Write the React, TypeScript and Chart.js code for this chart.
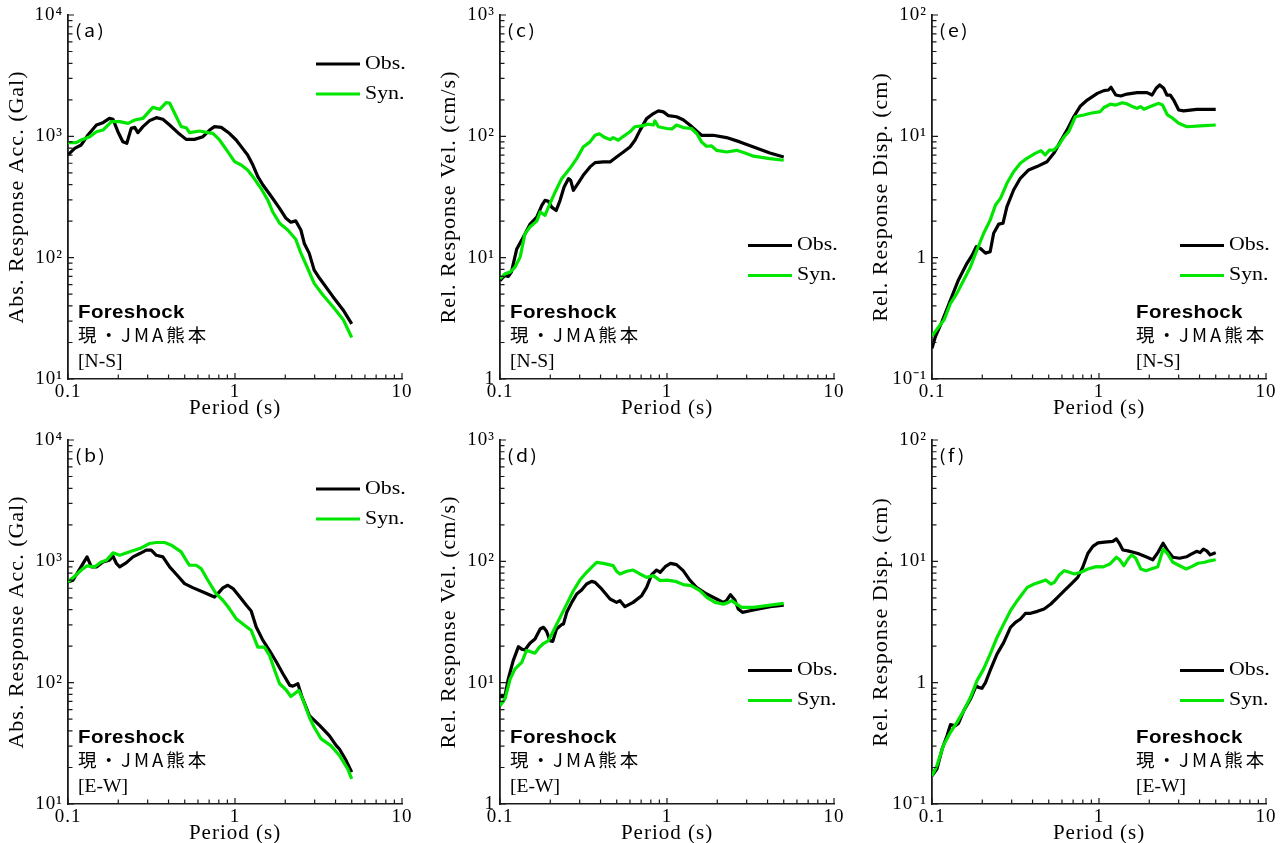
import React, { useEffect, useRef } from 'react';
import { Chart, registerables } from 'chart.js';

Chart.register(...registerables);

const SERIF = "'Liberation Serif', 'Times New Roman', Times, serif";
const SANS = "'Liberation Sans', Arial, Helvetica, sans-serif";
const CJK = "'Noto Sans CJK JP', 'Noto Sans', sans-serif";

const OBS_COLOR = '#000000';
const SYN_COLOR = '#00e600';
const AXIS_COLOR = '#1a1a1a';

const SERIES_LABELS = ['Obs.', 'Syn.'];
const EVENT_LABEL = 'Foreshock';
const STATION_LABEL = '現・JMA熊本';
const X_TITLE = 'Period (s)';
const X_TICKS = [0.1, 1, 10];
const ACC_TICKS = [10, 100, 1000, 10000];
const VEL_TICKS = [1, 10, 100, 1000];
const DISP_TICKS = [0.1, 1, 10, 100];
const ACC_TITLE = 'Abs. Response Acc. (Gal)';
const VEL_TITLE = 'Rel. Response Vel. (cm/s)';
const DISP_TITLE = 'Rel. Response Disp. (cm)';

// ---- (a) acceleration N-S ----
const aObsT = [0.1, 0.1096, 0.12, 0.1317, 0.148, 0.162, 0.177, 0.186, 0.199, 0.213, 0.225, 0.239, 0.251, 0.262, 0.281, 0.308, 0.338, 0.37, 0.406, 0.455, 0.51, 0.572, 0.643, 0.705, 0.753, 0.827, 0.925, 1.016, 1.11, 1.19, 1.28, 1.37, 1.47, 1.65, 1.85, 2.02, 2.16, 2.31, 2.48, 2.6, 2.78, 2.98, 3.21, 3.86, 4.44, 5.0];
const aObsV = [702, 796, 849, 1026, 1240, 1297, 1407, 1380, 1092, 903, 876, 1163, 1186, 1072, 1202, 1347, 1425, 1381, 1240, 1072, 944, 944, 994, 1127, 1202, 1186, 1059, 933, 796, 702, 580, 466, 397, 319, 255, 211, 196, 201, 169, 131, 109, 79, 67.6, 47.7, 37.1, 28.5];
const aSynT = [0.1, 0.112, 0.12, 0.135, 0.148, 0.162, 0.182, 0.204, 0.229, 0.251, 0.281, 0.322, 0.354, 0.387, 0.406, 0.435, 0.476, 0.51, 0.534, 0.613, 0.688, 0.737, 0.808, 0.905, 0.994, 1.09, 1.19, 1.3, 1.43, 1.57, 1.68, 1.85, 2.07, 2.31, 2.48, 2.67, 2.98, 3.36, 3.86, 4.44, 5.0];
const aSynV = [887, 887, 933, 994, 1092, 1127, 1321, 1321, 1280, 1364, 1407, 1733, 1671, 1894, 1882, 1549, 1202, 1178, 1072, 1106, 1072, 1059, 933, 748, 618, 580, 528, 451, 373, 299, 239, 192, 169, 142, 109, 87, 61.4, 49.2, 39.4, 31, 22];

// ---- (b) acceleration E-W ----
const bObsT = [0.1, 0.107, 0.117, 0.13, 0.138, 0.148, 0.162, 0.177, 0.186, 0.195, 0.204, 0.223, 0.245, 0.269, 0.294, 0.315, 0.338, 0.37, 0.406, 0.445, 0.499, 0.558, 0.643, 0.753, 0.79, 0.846, 0.905, 0.973, 1.07, 1.17, 1.25, 1.34, 1.47, 1.61, 1.77, 1.94, 2.13, 2.22, 2.38, 2.52, 2.79, 3.21, 3.67, 4.04, 4.22, 4.63, 5.0];
const bObsV = [676, 698, 855, 1089, 899, 899, 989, 1021, 1102, 960, 899, 971, 1089, 1159, 1236, 1236, 1122, 1089, 899, 782, 655, 607, 559, 508, 542, 604, 635, 596, 508, 434, 390, 288, 223, 184, 148, 118, 94.9, 93.6, 97.9, 76, 53.6, 44.4, 36.6, 30.3, 28.4, 22.8, 18.3];
const bSynT = [0.1, 0.1096, 0.123, 0.13, 0.144, 0.158, 0.17, 0.186, 0.204, 0.234, 0.269, 0.308, 0.338, 0.379, 0.416, 0.476, 0.51, 0.534, 0.585, 0.627, 0.688, 0.77, 0.846, 0.925, 1.016, 1.14, 1.25, 1.37, 1.5, 1.61, 1.73, 1.85, 2.02, 2.16, 2.41, 2.54, 2.79, 2.98, 3.28, 3.75, 4.22, 4.73, 5.0];
const bSynV = [676, 754, 872, 917, 899, 989, 1021, 1175, 1122, 1197, 1274, 1402, 1429, 1429, 1359, 1197, 1021, 928, 928, 872, 698, 542, 478, 408, 337, 297, 270, 196, 196, 168, 126, 97.9, 87.4, 77, 86.4, 73.6, 51.9, 42.9, 34.4, 30.3, 25.1, 19.5, 16.1];

// ---- (c) velocity N-S ----
const cObsT = [0.1, 0.107, 0.112, 0.117, 0.126, 0.138, 0.151, 0.166, 0.178, 0.186, 0.195, 0.204, 0.217, 0.229, 0.242, 0.257, 0.265, 0.275, 0.294, 0.315, 0.346, 0.371, 0.416, 0.456, 0.499, 0.548, 0.6, 0.643, 0.689, 0.755, 0.829, 0.888, 0.952, 1.02, 1.14, 1.25, 1.37, 1.51, 1.61, 1.89, 2.27, 2.73, 3.3, 4.13, 5.0];
const cObsV = [6.48, 7.13, 7.0, 7.6, 11.8, 14.8, 18.8, 21.6, 27, 29.7, 29.1, 26.1, 24.5, 29.7, 38.2, 44.8, 43.4, 35.9, 41.2, 47.7, 56, 60.7, 61.5, 61.5, 67.6, 74.3, 81.8, 92.8, 112, 140, 154, 162, 159, 148, 145, 137, 124, 110, 102, 102, 97.7, 90, 81.8, 73, 67.6];
const cSynT = [0.1, 0.107, 0.115, 0.123, 0.132, 0.141, 0.151, 0.166, 0.174, 0.186, 0.195, 0.214, 0.234, 0.262, 0.288, 0.315, 0.346, 0.371, 0.393, 0.425, 0.456, 0.476, 0.511, 0.548, 0.6, 0.643, 0.706, 0.774, 0.829, 0.846, 0.888, 0.995, 1.07, 1.14, 1.25, 1.4, 1.51, 1.61, 1.72, 1.85, 1.98, 2.27, 2.61, 2.93, 3.3, 4.13, 5.0];
const cSynV = [6.7, 7.36, 7.6, 8.36, 10.1, 15.7, 17.9, 20, 23.8, 22.3, 26.1, 34.8, 44.8, 54.2, 65.5, 81.8, 90, 102, 105, 97.7, 94, 97.7, 92.9, 100, 109, 120, 122, 126, 124, 134, 120, 116, 115, 124, 118, 116, 105, 90, 82.8, 83.4, 76.7, 74.3, 76.7, 73, 68.6, 65.5, 63.5];

// ---- (d) velocity E-W ----
const dObsT = [0.1, 0.107, 0.112, 0.12, 0.129, 0.135, 0.141, 0.151, 0.162, 0.174, 0.182, 0.19, 0.199, 0.207, 0.218, 0.234, 0.24, 0.251, 0.269, 0.288, 0.308, 0.33, 0.354, 0.371, 0.406, 0.456, 0.499, 0.523, 0.56, 0.627, 0.705, 0.755, 0.809, 0.867, 0.91, 0.976, 1.05, 1.14, 1.25, 1.37, 1.5, 1.73, 1.98, 2.17, 2.27, 2.4, 2.55, 2.67, 2.83, 3.3, 4.15, 5.0];
const dObsV = [7.67, 7.67, 10.7, 15.2, 19.8, 18.9, 18.6, 21.1, 22.9, 27.7, 28.6, 26.5, 22.2, 21.9, 27.7, 30.1, 30.5, 38, 45.9, 53.8, 58.1, 65, 68.4, 67.1, 59.2, 48.9, 45.9, 47.4, 42.3, 45.9, 52.1, 61, 77.6, 84.8, 81.2, 90.3, 96.3, 93.9, 83.8, 70.1, 61, 53.8, 48.9, 45.9, 47.4, 53.1, 48, 40.5, 38, 39.7, 42.3, 43.6];
const dSynT = [0.1, 0.107, 0.115, 0.123, 0.135, 0.144, 0.151, 0.162, 0.172, 0.183, 0.195, 0.209, 0.229, 0.251, 0.275, 0.301, 0.33, 0.362, 0.379, 0.416, 0.476, 0.499, 0.523, 0.574, 0.627, 0.689, 0.755, 0.829, 0.91, 1.0, 1.12, 1.25, 1.4, 1.58, 1.73, 1.94, 2.17, 2.33, 2.44, 2.61, 2.8, 3.3, 4.15, 5.0];
const dSynV = [6.46, 7.33, 10.7, 13, 14.7, 18.4, 18.1, 17.5, 19.6, 21.1, 22.2, 26.8, 34.5, 44.4, 57.2, 70.1, 81.2, 92.1, 98.1, 96.3, 92.1, 82.8, 78.7, 82.8, 84.8, 78.7, 73.8, 76.2, 69.3, 70.1, 68.4, 64.3, 63, 57.2, 50.5, 45.9, 44.4, 45.9, 47.4, 44.4, 41.8, 41.8, 43.6, 45.1];

// ---- (e) displacement N-S ----
const eObsT = [0.1, 0.1047, 0.1148, 0.129, 0.144, 0.162, 0.174, 0.184, 0.195, 0.209, 0.223, 0.234, 0.251, 0.266, 0.281, 0.308, 0.338, 0.379, 0.425, 0.488, 0.536, 0.587, 0.644, 0.706, 0.775, 0.85, 0.977, 1.07, 1.14, 1.18, 1.26, 1.35, 1.47, 1.69, 1.94, 2.08, 2.2, 2.31, 2.44, 2.55, 2.67, 2.8, 3.0, 3.21, 3.85, 5.0];
const eObsV = [0.179, 0.223, 0.297, 0.448, 0.655, 0.898, 1.05, 1.23, 1.19, 1.09, 1.12, 1.59, 1.89, 1.92, 2.63, 3.61, 4.51, 5.28, 5.63, 6.18, 7.24, 9.04, 11.3, 14.5, 17.8, 19.9, 22.6, 23.8, 24.1, 25.4, 21.9, 21.5, 22.3, 22.9, 22.9, 21.9, 24.9, 26.5, 24.9, 21.9, 21.9, 19.9, 16.5, 16.2, 16.7, 16.7];
const eSynT = [0.1, 0.11, 0.118, 0.129, 0.141, 0.155, 0.17, 0.186, 0.204, 0.223, 0.24, 0.257, 0.281, 0.308, 0.338, 0.37, 0.415, 0.449, 0.476, 0.505, 0.536, 0.574, 0.615, 0.658, 0.722, 0.81, 0.89, 1.02, 1.07, 1.17, 1.26, 1.38, 1.47, 1.58, 1.69, 1.77, 1.86, 2.03, 2.28, 2.4, 2.57, 2.76, 3.0, 3.36, 4.04, 5.0];
const eSynV = [0.226, 0.27, 0.306, 0.421, 0.508, 0.655, 0.843, 1.16, 1.59, 2.04, 2.72, 3.08, 4.1, 5.11, 5.99, 6.59, 7.24, 7.62, 7.02, 7.7, 7.7, 8.48, 9.82, 10.9, 14.5, 15, 15.5, 16, 17.3, 18.4, 18.1, 18.9, 18.5, 17.6, 17, 17.6, 16.7, 17.6, 18.7, 18.1, 15, 14.1, 12.8, 12, 12.2, 12.4];

// ---- (f) displacement E-W ----
const fObsT = [0.1, 0.107, 0.115, 0.123, 0.129, 0.138, 0.144, 0.155, 0.17, 0.184, 0.19, 0.199, 0.209, 0.223, 0.245, 0.269, 0.295, 0.316, 0.339, 0.363, 0.39, 0.428, 0.469, 0.515, 0.565, 0.62, 0.68, 0.746, 0.799, 0.857, 0.919, 0.986, 1.08, 1.21, 1.27, 1.33, 1.39, 1.49, 1.71, 1.91, 2.1, 2.25, 2.42, 2.58, 2.77, 3.04, 3.34, 3.5, 3.84, 4.03, 4.22, 4.42, 4.63, 4.85, 5.0];
const fObsV = [0.171, 0.194, 0.284, 0.365, 0.451, 0.442, 0.462, 0.588, 0.733, 0.944, 0.915, 0.898, 1.0, 1.26, 1.72, 2.15, 2.86, 3.14, 3.35, 3.73, 3.73, 3.87, 4.05, 4.45, 5.05, 5.73, 6.5, 7.38, 8.93, 11.6, 13.3, 14.2, 14.4, 14.6, 15.3, 13.9, 12.4, 12.2, 11.6, 10.9, 10.3, 11.8, 14.1, 12.2, 10.8, 10.6, 10.9, 11.3, 12.1, 11.8, 12.6, 12.2, 11.3, 11.6, 11.8];
const fSynT = [0.1, 0.107, 0.117, 0.129, 0.141, 0.155, 0.17, 0.186, 0.204, 0.223, 0.245, 0.269, 0.295, 0.324, 0.347, 0.372, 0.409, 0.449, 0.48, 0.515, 0.54, 0.58, 0.62, 0.665, 0.713, 0.78, 0.857, 0.963, 1.06, 1.16, 1.27, 1.33, 1.41, 1.49, 1.57, 1.66, 1.78, 1.91, 2.05, 2.25, 2.42, 2.58, 2.77, 3.04, 3.33, 3.58, 3.92, 4.3, 4.6, 5.0];
const fSynV = [0.171, 0.207, 0.303, 0.39, 0.471, 0.588, 0.757, 1.04, 1.3, 1.72, 2.36, 3.05, 3.92, 4.74, 5.38, 6.1, 6.5, 6.8, 7.02, 6.5, 6.71, 7.76, 8.38, 8.12, 7.87, 8.12, 8.65, 9.04, 9.0, 9.5, 10.8, 10.3, 9.2, 10.4, 11.3, 10.6, 8.65, 8.38, 8.65, 9.04, 12.6, 11.5, 9.82, 9.2, 8.65, 9.04, 9.64, 9.82, 10.1, 10.3];

type PanelDef = {
  label: string;
  col: number;
  row: number;
  obsT: number[];
  obsV: number[];
  synT: number[];
  synV: number[];
  yTicks: number[];
  yTitle: string;
  comp: string;
  legendAt: 'top' | 'mid';
  blockAt: 'left' | 'right';
};

const PANELS: PanelDef[] = [
  { label: '(a)', col: 0, row: 0, obsT: aObsT, obsV: aObsV, synT: aSynT, synV: aSynV, yTicks: ACC_TICKS, yTitle: ACC_TITLE, comp: '[N-S]', legendAt: 'top', blockAt: 'left' },
  { label: '(b)', col: 0, row: 1, obsT: bObsT, obsV: bObsV, synT: bSynT, synV: bSynV, yTicks: ACC_TICKS, yTitle: ACC_TITLE, comp: '[E-W]', legendAt: 'top', blockAt: 'left' },
  { label: '(c)', col: 1, row: 0, obsT: cObsT, obsV: cObsV, synT: cSynT, synV: cSynV, yTicks: VEL_TICKS, yTitle: VEL_TITLE, comp: '[N-S]', legendAt: 'mid', blockAt: 'left' },
  { label: '(d)', col: 1, row: 1, obsT: dObsT, obsV: dObsV, synT: dSynT, synV: dSynV, yTicks: VEL_TICKS, yTitle: VEL_TITLE, comp: '[E-W]', legendAt: 'mid', blockAt: 'left' },
  { label: '(e)', col: 2, row: 0, obsT: eObsT, obsV: eObsV, synT: eSynT, synV: eSynV, yTicks: DISP_TICKS, yTitle: DISP_TITLE, comp: '[N-S]', legendAt: 'mid', blockAt: 'right' },
  { label: '(f)', col: 2, row: 1, obsT: fObsT, obsV: fObsV, synT: fSynT, synV: fSynV, yTicks: DISP_TICKS, yTitle: DISP_TITLE, comp: '[E-W]', legendAt: 'mid', blockAt: 'right' },
];

const COL_X = [0, 432, 864];
const ROW_Y = [0, 425];
const CANVAS_W = 423;
const CANVAS_H = 440;

const SUP: Record<string, string> = { '0': '⁰', '1': '¹', '2': '²', '3': '³', '4': '⁴', '5': '⁵', '6': '⁶', '7': '⁷', '8': '⁸', '9': '⁹', '-': '⁻' };

function powLabel(v: number): string {
  const e = Math.round(Math.log10(v));
  if (e === 0) return '1';
  return '10' + String(e).split('').map((c) => SUP[c] || c).join('');
}

function toPoints(t: number[], v: number[]) {
  const n = Math.min(t.length, v.length);
  const out: { x: number; y: number }[] = [];
  for (let i = 0; i < n; i++) out.push({ x: t[i], y: v[i] });
  return out;
}

function drawText(ctx: CanvasRenderingContext2D, text: string, x: number, y: number, font: string, sx: number, ls: number, baseline: CanvasTextBaseline = 'alphabetic') {
  ctx.save();
  ctx.font = font;
  (ctx as any).letterSpacing = ls + 'px';
  ctx.textAlign = 'left';
  ctx.textBaseline = baseline;
  ctx.fillStyle = '#000';
  ctx.translate(x, y);
  ctx.scale(sx, 1);
  ctx.fillText(text, 0, 0);
  ctx.restore();
}

function logValues(min: number, max: number): { v: number; major: boolean }[] {
  const lo = Math.round(Math.log10(min));
  const hi = Math.round(Math.log10(max));
  const out: { v: number; major: boolean }[] = [];
  for (let e = lo; e < hi; e++) {
    for (let k = 1; k <= 9; k++) out.push({ v: k * Math.pow(10, e), major: k === 1 });
  }
  out.push({ v: Math.pow(10, hi), major: true });
  return out;
}

const decorPlugin = {
  id: 'decor',
  beforeDraw(chart: any) {
    (chart.ctx as any).letterSpacing = '1px';
  },
  afterDraw(chart: any, _args: any, opts: any) {
    const ctx: CanvasRenderingContext2D = chart.ctx;
    (ctx as any).letterSpacing = '0px';
    const ca = chart.chartArea;
    const xs = chart.scales.x;
    const ys = chart.scales.y;
    ctx.save();
    // inward ticks
    ctx.strokeStyle = AXIS_COLOR;
    ctx.lineWidth = 1.2;
    ctx.beginPath();
    for (const t of logValues(xs.min, xs.max)) {
      const px = xs.getPixelForValue(t.v);
      const len = t.major ? 6 : 4.5;
      ctx.moveTo(px, ca.bottom);
      ctx.lineTo(px, ca.bottom - len);
    }
    for (const t of logValues(ys.min, ys.max)) {
      const py = ys.getPixelForValue(t.v);
      const len = t.major ? 6 : 4.5;
      ctx.moveTo(ca.left, py);
      ctx.lineTo(ca.left + len, py);
    }
    ctx.stroke();

    // panel label
    drawText(ctx, opts.label, ca.left + 7, ca.top + 21.5, `17px ${CJK}`, 1.15, 2);

    // legend
    const legY0 = opts.legendAt === 'top' ? ca.top + 49 : ca.top + 230.5;
    chart.data.datasets.forEach((ds: any, i: number) => {
      const y = legY0 + i * 30;
      ctx.save();
      ctx.strokeStyle = ds.borderColor;
      ctx.lineWidth = 3.2;
      ctx.lineCap = 'butt';
      ctx.beginPath();
      ctx.moveTo(ca.right - 86, y);
      ctx.lineTo(ca.right - 42, y);
      ctx.stroke();
      ctx.restore();
      drawText(ctx, ds.label, ca.right - 37, y, `19px ${SERIF}`, 1.15, 0, 'middle');
    });

    // text block
    const bx = opts.blockAt === 'left' ? ca.left + 10 : ca.left + 204;
    drawText(ctx, EVENT_LABEL, bx, ca.top + 303, `bold 18px ${SANS}`, 1.14, 0.3);
    drawText(ctx, STATION_LABEL, bx, ca.top + 326.5, `18.5px ${CJK}`, 1.0, 3);
    drawText(ctx, opts.comp, bx, ca.top + 352, `19px ${SERIF}`, 1.03, 0);
    ctx.restore();
  },
};

function PanelChart({ p }: { p: PanelDef }) {
  const ref = useRef<HTMLCanvasElement | null>(null);
  useEffect(() => {
    const canvas = ref.current;
    if (!canvas) return;
    const yMin = p.yTicks[0];
    const yMax = p.yTicks[p.yTicks.length - 1];
    const chart = new Chart(canvas, {
      type: 'line',
      data: {
        datasets: [
          { label: SERIES_LABELS[0], data: toPoints(p.obsT, p.obsV), borderColor: OBS_COLOR, backgroundColor: OBS_COLOR, borderWidth: 3.2, pointRadius: 0, fill: false, tension: 0, borderJoinStyle: 'round', order: 1 },
          { label: SERIES_LABELS[1], data: toPoints(p.synT, p.synV), borderColor: SYN_COLOR, backgroundColor: SYN_COLOR, borderWidth: 3.2, pointRadius: 0, fill: false, tension: 0, borderJoinStyle: 'round', order: 0 },
        ],
      } as any,
      options: {
        responsive: false,
        animation: false,
        devicePixelRatio: 1,
        events: [],
        layout: { padding: { left: 0, top: 15, right: 21, bottom: 16 } },
        plugins: {
          legend: { display: false },
          tooltip: { enabled: false },
          decor: { label: p.label, comp: p.comp, legendAt: p.legendAt, blockAt: p.blockAt },
        } as any,
        scales: {
          x: {
            type: 'logarithmic',
            position: 'bottom',
            min: X_TICKS[0],
            max: X_TICKS[X_TICKS.length - 1],
            grid: { display: false, drawTicks: false },
            border: { display: true, color: AXIS_COLOR, width: 1.6 },
            ticks: {
              autoSkip: false,
              maxRotation: 0,
              padding: 2,
              color: '#000',
              font: { size: 19, family: SERIF },
              callback: (v: any) => String(Number(v)),
            },
            title: { display: true, text: X_TITLE, color: '#000', font: { size: 21, family: SERIF }, padding: { top: 0, bottom: 3 } },
            afterBuildTicks: (s: any) => {
              s.ticks = X_TICKS.map((v) => ({ value: v }));
            },
            afterFit: (s: any) => {
              s.height = 45;
              s.paddingLeft = 0;
              s.paddingRight = 0;
            },
          },
          y: {
            type: 'logarithmic',
            position: 'left',
            min: yMin,
            max: yMax,
            grid: { display: false, drawTicks: false },
            border: { display: true, color: AXIS_COLOR, width: 1.8 },
            ticks: {
              autoSkip: false,
              padding: 5,
              color: '#000',
              font: { size: 19, family: SERIF },
              callback: (v: any) => powLabel(Number(v)),
            },
            title: { display: true, text: p.yTitle, color: '#000', font: { size: 22, family: SERIF }, padding: { top: 4, bottom: 0 } },
            afterBuildTicks: (s: any) => {
              s.ticks = p.yTicks.map((v) => ({ value: v }));
            },
            afterFit: (s: any) => {
              s.width = 68;
              s.paddingTop = 0;
              s.paddingBottom = 0;
            },
          },
        } as any,
      },
      plugins: [decorPlugin as any],
    });
    return () => chart.destroy();
  }, [p]);
  return (
    <canvas
      ref={ref}
      width={CANVAS_W}
      height={CANVAS_H}
      style={{ position: 'absolute', left: COL_X[p.col], top: ROW_Y[p.row], width: CANVAS_W, height: CANVAS_H }}
    />
  );
}

export default function App() {
  return (
    <div style={{ position: 'absolute', left: 0, top: 0, width: 1287, height: 843, overflow: 'hidden', background: '#fff' }}>
      {PANELS.map((p) => (
        <PanelChart key={p.label} p={p} />
      ))}
    </div>
  );
}
